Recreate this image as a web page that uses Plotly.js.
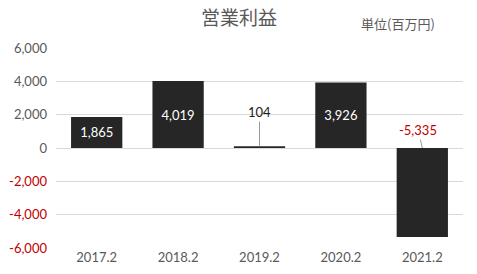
<!DOCTYPE html>
<html>
<head>
<meta charset="utf-8">
<script src="https://cdn.plot.ly/plotly-3.0.1.min.js"></script>
<style>html,body{margin:0;padding:0;background:#fff;}#chart{width:477px;height:274px;}</style>
</head>
<body>
<div id="chart"></div>
<script>
const categories = ['2017.2', '2018.2', '2019.2', '2020.2', '2021.2'];
const values = [1865, 4019, 104, 3926, -5335];
const yTickVals = [-6000, -4000, -2000, 0, 2000, 4000, 6000];
const titleText = '営業利益';
const unitText = '単位(百万円)';

const NUMFONT = 'Lato, "Noto Sans CJK JP", sans-serif';
const CJKFONT = '"Noto Sans CJK JP", "Noto Sans", sans-serif';
const GRAY = '#595959';
const RED = '#c00000';
const fmt = v => v.toLocaleString('en-US');

const inside = values.map(v => v > 1000);
const barText = values.map((v, i) => inside[i] ? fmt(v) : '');

const yTickText = yTickVals.map(v => v < 0
  ? '<span style="color:' + RED + '">' + fmt(v) + '</span>'
  : fmt(v));

const annotations = [
  {text: titleText, xref: 'paper', yref: 'paper', x: 0.45, y: 1, yanchor: 'bottom', yshift: 16,
   showarrow: false, font: {family: CJKFONT, size: 19, color: GRAY}},
  {text: unitText, xref: 'paper', yref: 'paper', x: 0.937, xanchor: 'right', y: 1, yanchor: 'bottom', yshift: 13,
   showarrow: false, font: {family: CJKFONT, size: 13, color: GRAY}}
];
values.forEach((v, i) => {
  if (inside[i]) return;
  const neg = v < 0;
  annotations.push({
    x: i, y: neg ? 0 : v, xref: 'x', yref: 'y',
    text: fmt(v), showarrow: true, arrowhead: 0, arrowwidth: 1, arrowcolor: '#9a9a9a',
    ax: neg ? -4 : 0, ay: neg ? -18 : -34, standoff: 0,
    font: {family: NUMFONT, size: 13, color: neg ? RED : '#1a1a1a'}
  });
});

const trace = {
  type: 'bar', x: categories, y: values,
  marker: {color: '#262626', line: {width: 0}},
  width: 0.63,
  text: barText, textposition: 'inside', insidetextanchor: 'middle',
  textfont: {family: NUMFONT, size: 13, color: '#ffffff'},
  hoverinfo: 'none'
};

const layout = {
  width: 477, height: 274,
  margin: {l: 56, r: 14, t: 48, b: 26},
  paper_bgcolor: '#ffffff', plot_bgcolor: '#ffffff',
  showlegend: false,
  xaxis: {
    type: 'category', categoryorder: 'array', categoryarray: categories,
    showgrid: false, zeroline: false, showline: false, ticks: '',
    tickfont: {family: NUMFONT, size: 13, color: GRAY}
  },
  yaxis: {
    range: [-6000, 6000], tickvals: yTickVals, ticktext: yTickText,
    showgrid: true, gridcolor: '#d9d9d9', gridwidth: 1,
    zeroline: true, zerolinecolor: '#d9d9d9', zerolinewidth: 1,
    showline: false, ticks: '', ticklabelstandoff: 8,
    tickfont: {family: NUMFONT, size: 13, color: GRAY}
  },
  annotations: annotations
};

Plotly.newPlot('chart', [trace], layout, {staticPlot: true, displayModeBar: false});
</script>
</body>
</html>
